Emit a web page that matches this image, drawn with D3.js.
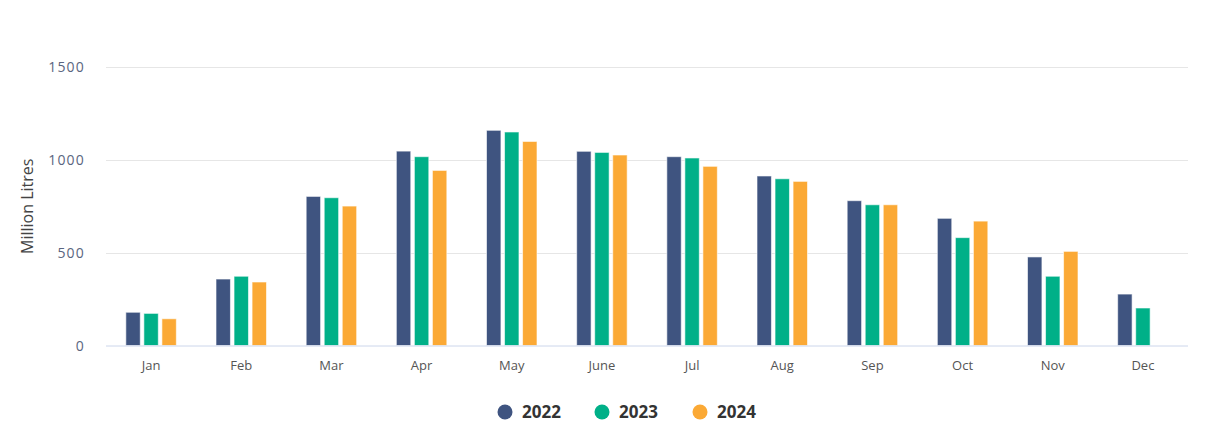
<!DOCTYPE html>
<html>
<head>
<meta charset="utf-8">
<script src="https://cdn.jsdelivr.net/npm/d3@7"></script>
<style>
  body { margin: 0; background: #fff; }
  text { font-family: "Open Sans", sans-serif; }
</style>
</head>
<body>
<div id="root"></div>
<script>
const months = ["Jan", "Feb", "Mar", "Apr", "May", "June", "Jul", "Aug", "Sep", "Oct", "Nov", "Dec"];
const years = ["2022", "2023", "2024"];
const v2022 = [179, 358, 803, 1047, 1159, 1046, 1017, 913, 780, 685, 477, 277];
const v2023 = [173, 373, 796, 1017, 1150, 1040, 1010, 898, 758, 581, 373, 202];
const v2024 = [144, 342, 751, 943, 1099, 1026, 965, 884, 758, 670, 507, null];
const yTicks = [0, 500, 1000, 1500];
const colors = ["#3f5480", "#00b088", "#fba935"];

const w = 1228;
const h = 446;
const plotLeft = 106, plotRight = 1188, plotTop = 67, plotBottom = 345.5;

const series = [v2022, v2023, v2024];

const svg = d3.select("#root")
    .append("svg")
    .attr("width", w)
    .attr("height", h);

const x0 = d3.scaleBand().domain(months).range([plotLeft, plotRight]);
const bw = x0.bandwidth();
const x1 = d3.scaleBand().domain(years)
    .range([0.2 * bw, 0.8 * bw])
    .paddingInner(0.2)
    .paddingOuter(0.1);
const y = d3.scaleLinear().domain([0, 1500]).range([plotBottom, plotTop]);

// gridlines
svg.append("g")
    .selectAll("line")
    .data(yTicks.filter(t => t > 0))
    .enter()
    .append("line")
    .attr("x1", plotLeft)
    .attr("x2", plotRight)
    .attr("y1", d => Math.round(y(d)) + 0.5)
    .attr("y2", d => Math.round(y(d)) + 0.5)
    .attr("stroke", "#e6e6e6")
    .attr("stroke-width", 1);

// y labels
svg.append("g")
    .selectAll("text")
    .data(yTicks)
    .enter()
    .append("text")
    .attr("x", 85)
    .attr("y", d => y(d) + 5)
    .attr("text-anchor", "end")
    .attr("font-size", "14px")
    .attr("letter-spacing", "1.2px")
    .attr("fill", "#5a6580")
    .text(d => d);

svg.append("text")
    .attr("transform", `translate(33,${(plotTop + plotBottom) / 2}) rotate(-90)`)
    .attr("text-anchor", "middle")
    .attr("font-size", "16px")
    .attr("fill", "#444")
    .text("Million Litres");

// bars
const groups = svg.append("g")
    .selectAll("g")
    .data(months)
    .enter()
    .append("g")
    .attr("transform", d => `translate(${x0(d)},0)`);

groups.selectAll("rect")
    .data((m, i) => years.map((yr, k) => ({ yr, k, v: series[k][i] })).filter(d => d.v != null))
    .enter()
    .append("rect")
    .attr("x", d => x1(d.yr))
    .attr("y", d => y(d.v))
    .attr("width", x1.bandwidth())
    .attr("height", d => plotBottom - y(d.v))
    .attr("fill", d => colors[d.k])
    .attr("stroke", "#ffffff")
    .attr("stroke-opacity", 0.6)
    .attr("stroke-width", 1);

// x axis line
svg.append("line")
    .attr("x1", plotLeft)
    .attr("x2", plotRight)
    .attr("y1", plotBottom + 0.5)
    .attr("y2", plotBottom + 0.5)
    .attr("stroke", "#ccd6eb")
    .attr("stroke-width", 1);

// x labels
svg.append("g")
    .selectAll("text")
    .data(months)
    .enter()
    .append("text")
    .attr("x", d => x0(d) + bw / 2)
    .attr("y", 370)
    .attr("text-anchor", "middle")
    .attr("font-size", "13px")
    .attr("fill", "#555")
    .text(d => d);

// legend
const legendX = [505, 602, 700];
const legend = svg.append("g")
    .selectAll("g")
    .data(years)
    .enter()
    .append("g")
    .attr("transform", (d, i) => `translate(${legendX[i]},412)`);

legend.append("circle")
    .attr("r", 7.5)
    .attr("fill", (d, i) => colors[i]);

legend.append("text")
    .attr("x", 17)
    .attr("y", 6)
    .attr("font-size", "17px")
    .attr("font-weight", "bold")
    .attr("fill", "#333333")
    .text(d => d);
</script>
</body>
</html>
